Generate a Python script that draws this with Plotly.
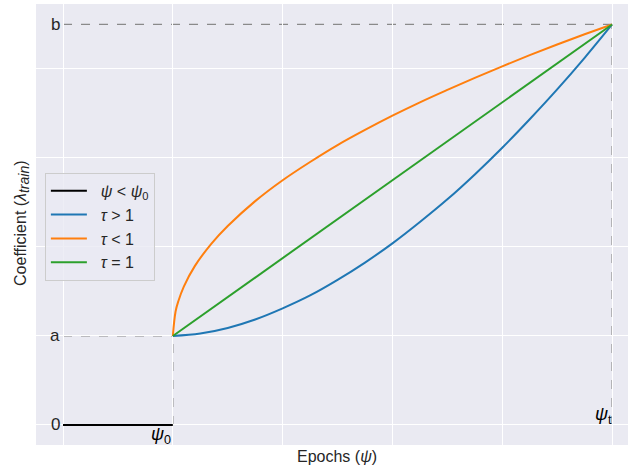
import plotly.graph_objects as go

# Key values
a_val = 0.2
b_val = 0.9
psi0 = 0.2
psit = 1.0

# Curves
x_orange = [0.2, 0.205, 0.21, 0.22, 0.24, 0.27, 0.30, 0.35, 0.40, 0.45, 0.50, 0.55,
            0.60, 0.65, 0.70, 0.75, 0.80, 0.85, 0.90, 0.95, 1.0]
y_orange = [0.2, 0.255, 0.278, 0.311, 0.357, 0.407, 0.447, 0.503, 0.55, 0.591, 0.629, 0.663,
            0.695, 0.725, 0.753, 0.780, 0.806, 0.831, 0.855, 0.878, 0.9]
x_blue = [0.2, 0.25, 0.30, 0.35, 0.40, 0.45, 0.50, 0.55, 0.60, 0.65, 0.70, 0.75,
          0.80, 0.85, 0.90, 0.95, 1.0]
y_blue = [0.2, 0.2055, 0.218, 0.237, 0.262, 0.291, 0.326, 0.365, 0.408, 0.456, 0.507, 0.563,
          0.623, 0.687, 0.754, 0.825, 0.9]
x_green = [0.2, 1.0]
y_green = [0.2, 0.9]
x_black = [0.0, 0.2]
y_black = [0.0, 0.0]

grid_vals_x = [0, 0.2, 0.4, 0.6, 0.8, 1.0]
grid_vals_y = [0, 0.2, 0.4, 0.6, 0.8]

font_family = "Liberation Sans, Arial, sans-serif"
txt_color = "#262626"
sp = "\u00a0\u00a0"

fig = go.Figure()
fig.add_trace(go.Scatter(x=x_black, y=y_black, mode="lines",
                         line=dict(color="black", width=2),
                         name=sp + "<i>ψ</i> &lt; <i>ψ</i><sub>0</sub>"))
fig.add_trace(go.Scatter(x=x_blue, y=y_blue, mode="lines", line_shape="spline",
                         line=dict(color="#1f77b4", width=2),
                         name=sp + "<i>τ</i> &gt; 1"))
fig.add_trace(go.Scatter(x=x_orange, y=y_orange, mode="lines", line_shape="spline",
                         line=dict(color="#ff7f0e", width=2),
                         name=sp + "<i>τ</i> &lt; 1"))
fig.add_trace(go.Scatter(x=x_green, y=y_green, mode="lines",
                         line=dict(color="#2ca02c", width=2),
                         name=sp + "<i>τ</i> = 1"))

dash = dict(color="#8a8a8a", width=1.3, dash="dash")
fig.add_shape(type="line", x0=0, x1=psit, y0=b_val, y1=b_val, line=dash, layer="below")
fig.add_shape(type="line", x0=psit, x1=psit, y0=0, y1=b_val, line=dash, layer="below")
fig.add_shape(type="line", x0=0, x1=psi0, y0=a_val, y1=a_val, line=dash, layer="below")
fig.add_shape(type="line", x0=psi0, x1=psi0, y0=0, y1=a_val, line=dash, layer="below")

tick_font = dict(family=font_family, size=17, color=txt_color)
for lab, yv in [("0", 0), ("a", a_val), ("b", b_val)]:
    fig.add_annotation(x=0, y=yv, text=lab, showarrow=False, xanchor="right",
                       yanchor="middle", font=tick_font, xshift=-1)
fig.add_annotation(x=psi0, y=0, text="<i>ψ</i><sub>0</sub>", showarrow=False,
                   xanchor="right", yanchor="top", yshift=3,
                   font=dict(family=font_family, size=18, color="black"))
fig.add_annotation(x=psit, y=0, text="<i>ψ</i><sub>t</sub>", showarrow=False,
                   xanchor="right", yanchor="bottom", yshift=-4, xshift=2,
                   font=dict(family=font_family, size=18, color="black"))

title_font = dict(family=font_family, size=16, color=txt_color)
fig.add_annotation(xref="paper", yref="paper", x=0.508, y=-0.025, text="Epochs (<i>ψ</i>)",
                   showarrow=False, xanchor="center", yanchor="middle", font=title_font)
fig.add_annotation(xref="paper", yref="paper", x=-0.024, y=0.503,
                   text="Coefficient (<i>λ</i><sub><span style='font-size:14px'><i>train</i></span></sub>)",
                   textangle=-90,
                   showarrow=False, xanchor="center", yanchor="middle", font=title_font)

fig.update_xaxes(range=[-0.0492, 1.029], showticklabels=False, ticks="", showgrid=False,
                 zeroline=False, showline=False,
                 minor=dict(tickvals=grid_vals_x, showgrid=True, gridcolor="white", gridwidth=1))
fig.update_yaxes(range=[-0.045, 0.946], showticklabels=False, ticks="", showgrid=False,
                 zeroline=False, showline=False,
                 minor=dict(tickvals=grid_vals_y, showgrid=True, gridcolor="white", gridwidth=1))

fig.update_layout(
    width=629, height=468,
    margin=dict(l=36, r=1, t=4, b=23),
    plot_bgcolor="#EAEAF2", paper_bgcolor="white",
    font=dict(family=font_family, size=16, color=txt_color),
    legend=dict(x=0.015, y=0.617, xanchor="left", yanchor="top",
                bgcolor="rgba(234,234,242,0.8)", bordercolor="#cccccc", borderwidth=1,
                font=dict(family=font_family, size=16, color=txt_color),
                tracegroupgap=0, itemwidth=36),
)

fig.write_html("out.html")
